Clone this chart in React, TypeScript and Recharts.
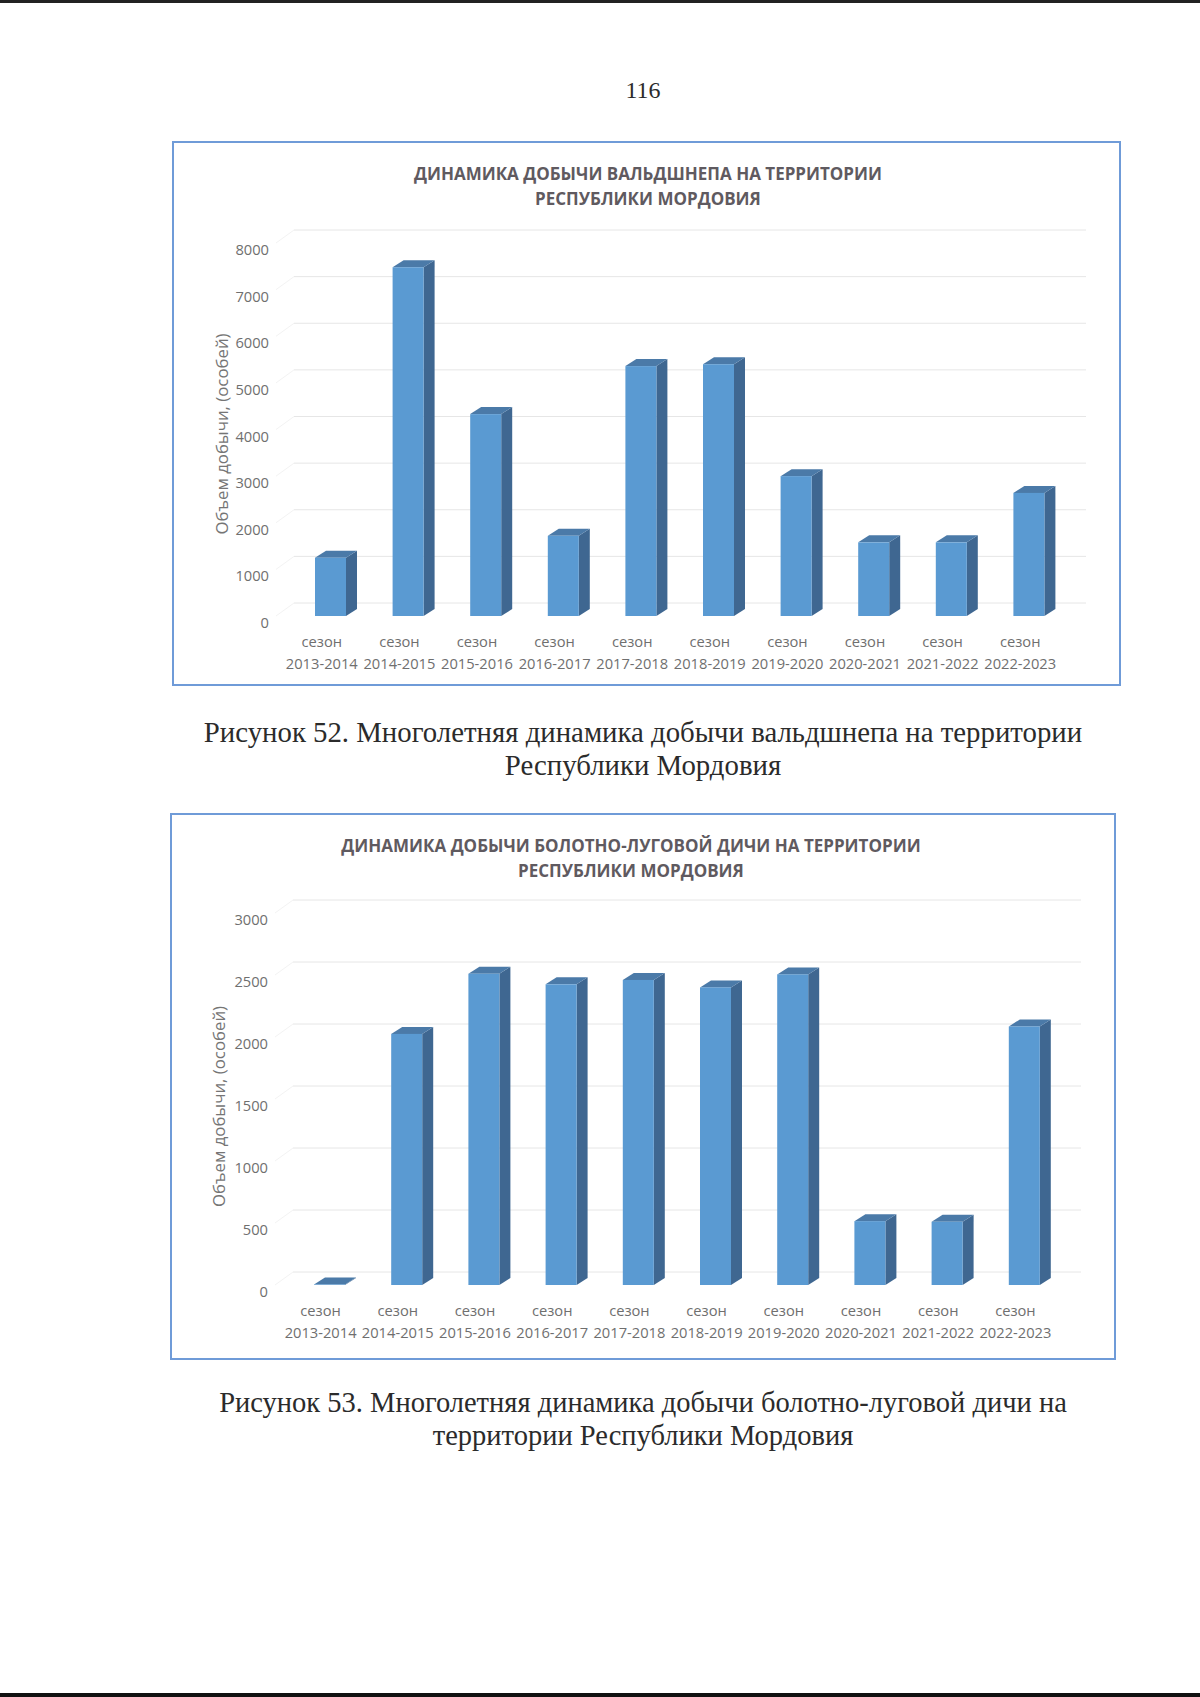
import React from "react";
import { BarChart, Bar, XAxis, YAxis, CartesianGrid } from "recharts";

const seasons = [
  "2013-2014",
  "2014-2015",
  "2015-2016",
  "2016-2017",
  "2017-2018",
  "2018-2019",
  "2019-2020",
  "2020-2021",
  "2021-2022",
  "2022-2023",
];

const woodcockValues = [1250, 7480, 4330, 1720, 5360, 5400, 3000, 1580, 1580, 2640];
const woodcockTicks = [0, 1000, 2000, 3000, 4000, 5000, 6000, 7000, 8000];

const marshGameValues = [4, 2025, 2510, 2425, 2460, 2400, 2505, 515, 510, 2085];
const marshGameTicks = [0, 500, 1000, 1500, 2000, 2500, 3000];

const FONT = "'Open Sans', sans-serif";
const SERIF = "'Liberation Serif', serif";

const renderBar3D = ({ x, y, width, height }: any) => {
  const dx = 11;
  const dy = 7;
  const bottom = y + height;
  return (
    <g>
      <polygon
        points={`${x + width},${y} ${x + width + dx},${y - dy} ${x + width + dx},${bottom - dy} ${x + width},${bottom}`}
        fill="#3f6791"
      />
      <polygon
        points={`${x},${y} ${x + dx},${y - dy} ${x + width + dx},${y - dy} ${x + width},${y}`}
        fill="#4b7aa8"
      />
      <rect x={x} y={y} width={width} height={height} fill="#5a9ad2" />
    </g>
  );
};

const renderGridLine = ({ x1, x2, y1 }: any) => {
  const y = y1 - 13;
  return (
    <g key={y1}>
      <line x1={x1 - 16} y1={y1} x2={x1 + 2} y2={y} stroke="#f3f3f3" />
      <line x1={x1 + 2} y1={y} x2={x2 + 18} y2={y} stroke="#e6e6e6" />
    </g>
  );
};

const renderValueTick = ({ x, y, payload }: any) => (
  <text x={x} y={y + 12} textAnchor="end" fontFamily={FONT} fontSize={14.7} fill="#6f6f6f">
    {payload.value}
  </text>
);

const renderSeasonTick = ({ x, y, payload }: any) => (
  <text textAnchor="middle" fontFamily={FONT} fontSize={14.7} fill="#6f6f6f">
    <tspan x={x - 9} y={y + 23}>сезон</tspan>
    <tspan x={x - 9} y={y + 45}>{payload.value}</tspan>
  </text>
);

interface PanelProps {
  values: number[];
  ticks: number[];
  top: number;
  left: number;
  width: number;
  height: number;
  margin: { top: number; right: number; bottom: number; left: number };
  titleLines: string[];
  titleTop: number;
  titleCenter: number;
  labelDx: number;
  labelDy: number;
}

const Panel: React.FC<PanelProps> = ({
  values,
  ticks,
  top,
  left,
  width,
  height,
  margin,
  titleLines,
  titleTop,
  titleCenter,
  labelDx,
  labelDy,
}) => {
  const data = seasons.map((season, i) => ({ season, value: values[i] }));
  return (
    <div
      style={{
        position: "absolute",
        top,
        left,
        width,
        height,
        boxSizing: "border-box",
        border: "2px solid #6f9bd8",
        background: "#fff",
      }}
    >
      <div
        style={{
          position: "absolute",
          top: titleTop,
          left: titleCenter - 400,
          width: 800,
          textAlign: "center",
          fontFamily: FONT,
          fontWeight: 700,
          fontSize: 17,
          lineHeight: "25px",
          color: "#5f5a60",
        }}
      >
        {titleLines.map((line) => (
          <div key={line}>{line}</div>
        ))}
      </div>
      <BarChart
        width={width - 4}
        height={height - 4}
        data={data}
        margin={margin}
        style={{ position: "absolute", top: 0, left: 0 }}
      >
        <CartesianGrid vertical={false} horizontal={renderGridLine} />
        <XAxis dataKey="season" height={1} axisLine={false} tickLine={false} tick={renderSeasonTick} interval={0} />
        <YAxis
          width={62}
          domain={[ticks[0], ticks[ticks.length - 1]]}
          ticks={ticks}
          axisLine={false}
          tickLine={false}
          tickMargin={17}
          tick={renderValueTick}
          label={{
            value: "Объем добычи, (особей)",
            angle: -90,
            position: "insideLeft",
            dx: labelDx,
            dy: labelDy,
            style: { fontFamily: FONT, fontSize: 16.8, fill: "#757575" },
          }}
        />
        <Bar dataKey="value" barSize={31} shape={renderBar3D} isAnimationActive={false} />
      </BarChart>
    </div>
  );
};

const Caption = ({ top, lines, size }: { top: number; lines: string[]; size: number }) => (
  <div
    style={{
      position: "absolute",
      top,
      left: 0,
      width: 1286,
      textAlign: "center",
      fontFamily: SERIF,
      fontSize: size,
      lineHeight: "33px",
      color: "#2b2b2b",
    }}
  >
    {lines.map((line) => (
      <div key={line}>{line}</div>
    ))}
  </div>
);

export default function App() {
  return (
    <div
      style={{
        position: "absolute",
        top: 0,
        left: 0,
        width: 1200,
        height: 1697,
        background: "#fff",
        overflow: "hidden",
      }}
    >
      <div style={{ position: "absolute", top: 0, left: 0, width: 1200, height: 3, background: "#222" }} />
      <div style={{ position: "absolute", bottom: 0, left: 0, width: 1200, height: 4, background: "#111" }} />
      <div
        style={{
          position: "absolute",
          top: 77,
          left: 0,
          width: 1286,
          textAlign: "center",
          fontFamily: SERIF,
          fontSize: 24,
          color: "#2b2b2b",
        }}
      >
        116
      </div>
      <Panel
        values={woodcockValues}
        ticks={woodcockTicks}
        top={141}
        left={172}
        width={949}
        height={545}
        margin={{ top: 100, right: 51, bottom: 67, left: 56 }}
        titleLines={["ДИНАМИКА ДОБЫЧИ ВАЛЬДШНЕПА НА ТЕРРИТОРИИ", "РЕСПУБЛИКИ МОРДОВИЯ"]}
        titleTop={18}
        titleCenter={474}
        labelDx={-13}
        labelDy={105}
      />
      <Caption
        top={716}
        size={28.8}
        lines={["Рисунок 52. Многолетняя динамика добычи вальдшнепа на территории", "Республики Мордовия"]}
      />
      <Panel
        values={marshGameValues}
        ticks={marshGameTicks}
        top={813}
        left={170}
        width={946}
        height={547}
        margin={{ top: 98, right: 51, bottom: 72, left: 57 }}
        titleLines={["ДИНАМИКА ДОБЫЧИ БОЛОТНО-ЛУГОВОЙ ДИЧИ НА ТЕРРИТОРИИ", "РЕСПУБЛИКИ МОРДОВИЯ"]}
        titleTop={18}
        titleCenter={459}
        labelDx={-15}
        labelDy={108}
      />
      <Caption
        top={1386}
        size={28.5}
        lines={["Рисунок 53. Многолетняя динамика добычи болотно-луговой дичи на", "территории Республики Мордовия"]}
      />
    </div>
  );
}
